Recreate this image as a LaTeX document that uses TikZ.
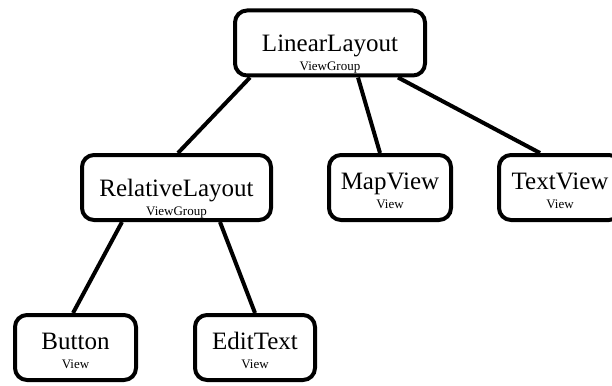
\documentclass[tikz,border=0pt]{standalone}
\usepackage{fontspec}
\setmainfont{Liberation Serif}
\usetikzlibrary{positioning}
\tikzset{
  box/.style={draw, line width=4pt, rounded corners=12pt, inner sep=0pt,
    align=center, font=\fontsize{25}{19}\selectfont},
  group/.style={box, text height=60pt, text depth=5pt},
  leaf/.style={box, text height=53pt, text depth=12pt, minimum width=122pt},
}
\newcommand{\kind}[1]{{\fontsize{13}{15}\selectfont #1}}

\begin{document}
\begin{tikzpicture}[x=1pt,y=-1pt,line width=4pt]
\useasboundingbox (0,0) rectangle (612,385);
\clip (0,0) rectangle (612,385);

\node [group,minimum width=190pt] (ll) at (330,43) {LinearLayout\\\kind{ViewGroup}};
\node [group,minimum width=189pt] (rl) at (176.5,187.5) {RelativeLayout\\\kind{ViewGroup}};
\node [leaf] (mv) at (390,187.5) {MapView\\\kind{View}};
\node [leaf] (tv) at (560,187.5) {TextView\\\kind{View}};
\node [leaf,minimum width=121pt] (bt) at (75.5,347.5) {Button\\\kind{View}};
\node [leaf,minimum width=120pt] (et) at (255,347.5) {EditText\\\kind{View}};

\begin{scope}[line width=4pt]
\draw ([xshift=-80pt]ll.south) -- ([xshift=1.5pt]rl.north);
\draw ([xshift=28pt]ll.south) -- ([xshift=-10pt]mv.north);
\draw ([xshift=68pt]ll.south) -- ([xshift=-20pt]tv.north);
\draw ([xshift=-54.5pt]rl.south) -- ([xshift=-2.5pt]bt.north);
\draw ([xshift=43.5pt]rl.south) -- (et.north);
\end{scope}

\end{tikzpicture}
\end{document}
